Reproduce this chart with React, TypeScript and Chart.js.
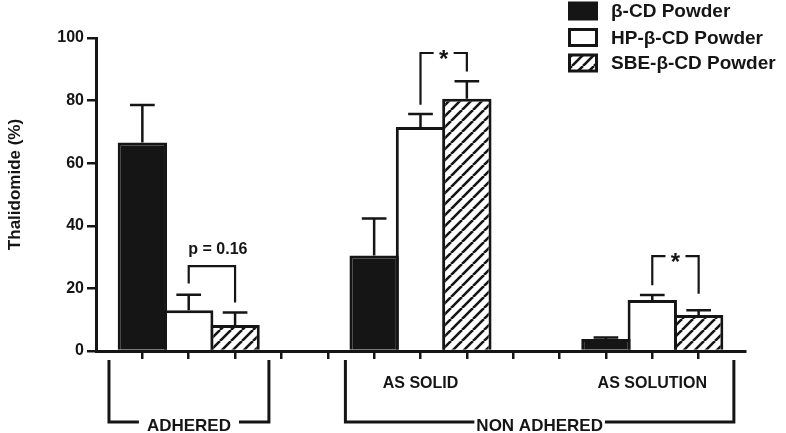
import React, { useEffect, useRef } from "react";
import { Chart, registerables } from "chart.js";

Chart.register(...registerables);

const FONT = "'Liberation Sans', Arial, Helvetica, sans-serif";
const INK = "#151515";

// ---------------- data ----------------
const seriesNames = ["β-CD Powder", "HP-β-CD Powder", "SBE-β-CD Powder"];
const groupNames = ["ADHERED", "AS SOLID", "AS SOLUTION"];
const subLabels = ["", "AS SOLID", "AS SOLUTION"];
const outerLabels = ["ADHERED", "NON ADHERED"];
const outerFirstGroup = [0, 1];
const outerLastGroup = [0, 2];

const betaCD = [66.6, 30.5, 3.8];
const betaCDErr = [12.0, 11.8, 0.5];
const hpBetaCD = [13.0, 71.6, 16.3];
const hpBetaCDErr = [5.0, 4.1, 1.6];
const sbeBetaCD = [8.3, 80.6, 11.5];
const sbeBetaCDErr = [4.0, 5.6, 1.5];

const yTicks = [0, 20, 40, 60, 80, 100];
const yTitle = "Thalidomide (%)";

// significance brackets (one per group, between HP and SBE bars)
const sigText = ["p = 0.16", "*", "*"];
const sigLine = [27.1, 95.2, 30.3];
const sigLegLeft = [21.6, 78.7, 21.0];
const sigLegRight = [15.5, 89.3, 18.3];

// ---------------- slot layout (1 leading empty slot, 3 bars + 2 gaps per group) ----------------
const SLOTS_PER_GROUP = 5;
const slotCount = groupNames.length * SLOTS_PER_GROUP;
const slotOf = (g: number, s: number) => 1 + g * SLOTS_PER_GROUP + s;
const slotLabels: string[] = Array.from({ length: slotCount }, (_, i) => {
  const g = Math.floor((i - 1) / SLOTS_PER_GROUP);
  const s = (i - 1) % SLOTS_PER_GROUP;
  return i >= 1 && s < 3 && g < groupNames.length ? `${groupNames[g]} ${seriesNames[s]}` : "";
});
const spread = (vals: number[], s: number) => {
  const arr: (number | null)[] = Array(slotCount).fill(null);
  vals.forEach((v, g) => (arr[slotOf(g, s)] = v));
  return arr;
};

const seriesValues = [betaCD, hpBetaCD, sbeBetaCD];
const seriesErrors = [betaCDErr, hpBetaCDErr, sbeBetaCDErr];

function makeHatch(): CanvasPattern | string {
  const c = document.createElement("canvas");
  const n = 11;
  c.width = n;
  c.height = n;
  const g = c.getContext("2d");
  if (!g) return "#fff";
  g.fillStyle = "#fff";
  g.fillRect(0, 0, n, n);
  g.strokeStyle = INK;
  g.lineWidth = 2.6;
  g.beginPath();
  for (let k = -1; k <= 1; k++) {
    g.moveTo(k * n, n);
    g.lineTo(k * n + n, 0);
  }
  g.stroke();
  return g.createPattern(c, "repeat") || "#fff";
}

function centerText(ctx: CanvasRenderingContext2D, text: string, x: number, cy: number) {
  ctx.textAlign = "center";
  ctx.textBaseline = "alphabetic";
  const m = ctx.measureText(text);
  const y0 = cy - (m.actualBoundingBoxDescent - m.actualBoundingBoxAscent) / 2;
  ctx.fillText(text, x, y0);
}

export default function App() {
  const ref = useRef<HTMLCanvasElement | null>(null);

  useEffect(() => {
    if (!ref.current) return;
    const hatch = makeHatch();
    const fills: (string | CanvasPattern)[] = [INK, "#ffffff", hatch];

    const errorBars = {
      id: "errorBars",
      afterDatasetsDraw(chart: any) {
        const ctx = chart.ctx;
        const ys = chart.scales.y;
        ctx.save();
        ctx.strokeStyle = INK;
        ctx.lineWidth = 2.5;
        chart.data.datasets.forEach((ds: any, i: number) => {
          const meta = chart.getDatasetMeta(i);
          meta.data.forEach((el: any, j: number) => {
            const v = ds.data[j];
            if (v === null || v === undefined) return;
            const e = ds.errors[j];
            const yTop = ys.getPixelForValue(v + e);
            const half = el.width / 4;
            ctx.beginPath();
            ctx.moveTo(el.x, el.y);
            ctx.lineTo(el.x, yTop);
            ctx.moveTo(el.x - half, yTop);
            ctx.lineTo(el.x + half, yTop);
            ctx.stroke();
          });
        });
        ctx.restore();
      },
    };

    const sigBrackets = {
      id: "sigBrackets",
      afterDatasetsDraw(chart: any) {
        const ctx = chart.ctx;
        const xs = chart.scales.x;
        const ys = chart.scales.y;
        ctx.save();
        ctx.strokeStyle = INK;
        ctx.fillStyle = INK;
        ctx.lineWidth = 2.2;
        sigText.forEach((t, g) => {
          const xL = xs.getPixelForValue(slotOf(g, 1));
          const xR = xs.getPixelForValue(slotOf(g, 2));
          const yl = ys.getPixelForValue(sigLine[g]);
          const y1 = ys.getPixelForValue(sigLegLeft[g]);
          const y2 = ys.getPixelForValue(sigLegRight[g]);
          const mid = (xL + xR) / 2;
          ctx.beginPath();
          if (t === "*") {
            ctx.moveTo(xL, y1);
            ctx.lineTo(xL, yl);
            ctx.lineTo(mid - 10, yl);
            ctx.moveTo(mid + 10, yl);
            ctx.lineTo(xR, yl);
            ctx.lineTo(xR, y2);
            ctx.stroke();
            ctx.font = `bold 24px ${FONT}`;
            centerText(ctx, t, mid, yl + 1);
          } else {
            ctx.moveTo(xL, y1);
            ctx.lineTo(xL, yl);
            ctx.lineTo(xR, yl);
            ctx.lineTo(xR, y2);
            ctx.stroke();
            ctx.font = `bold 16px ${FONT}`;
            ctx.textAlign = "center";
            ctx.textBaseline = "alphabetic";
            ctx.fillText(t, mid + 6, yl - 12);
          }
        });
        ctx.restore();
      },
    };

    const categoryBrackets = {
      id: "categoryBrackets",
      afterDraw(chart: any) {
        const ctx = chart.ctx;
        const xs = chart.scales.x;
        const base = xs.top;
        const topY = base + 9;
        const lineY = base + 71;
        const subY = base + 31;
        const extL = [0.72, 0.62];
        const extR = [0.73, 0.76];
        const gaps = [8, 2];
        ctx.save();
        ctx.strokeStyle = INK;
        ctx.fillStyle = INK;
        ctx.lineWidth = 3;
        ctx.lineJoin = "miter";
        outerLabels.forEach((lab, k) => {
          const x1 = xs.getPixelForValue(slotOf(outerFirstGroup[k], 0) - extL[k]);
          const x2 = xs.getPixelForValue(slotOf(outerLastGroup[k], 2) + extR[k]);
          ctx.font = `bold 17px ${FONT}`;
          const w = ctx.measureText(lab).width;
          const mid = (x1 + x2) / 2;
          ctx.beginPath();
          ctx.moveTo(x1, topY);
          ctx.lineTo(x1, lineY);
          ctx.lineTo(mid - w / 2 - gaps[k], lineY);
          ctx.moveTo(mid + w / 2 + gaps[k], lineY);
          ctx.lineTo(x2, lineY);
          ctx.lineTo(x2, topY);
          ctx.stroke();
          centerText(ctx, lab, mid, lineY + 3);
        });
        ctx.font = `bold 16px ${FONT}`;
        subLabels.forEach((lab, g) => {
          if (!lab) return;
          centerText(ctx, lab, xs.getPixelForValue(slotOf(g, 1)), subY);
        });
        ctx.restore();
      },
    };

    const yTitlePlugin = {
      id: "yTitle",
      afterDraw(chart: any) {
        const ctx = chart.ctx;
        const ys = chart.scales.y;
        ctx.save();
        ctx.translate(ys.left + 15, (ys.top + ys.bottom) / 2 - 10);
        ctx.rotate(-Math.PI / 2);
        ctx.fillStyle = INK;
        ctx.font = `bold 17px ${FONT}`;
        centerText(ctx, yTitle, 0, 0);
        ctx.restore();
      },
    };

    const legendPlugin = {
      id: "customLegend",
      afterDraw(chart: any) {
        const ctx = chart.ctx;
        const rows = [11, 37.5, 63];
        ctx.save();
        seriesNames.forEach((name, i) => {
          const cy = rows[i];
          ctx.fillStyle = fills[i] as any;
          ctx.fillRect(569.5, cy - 8, 27, 16);
          ctx.strokeStyle = INK;
          ctx.lineWidth = 3;
          ctx.strokeRect(569.5, cy - 8, 27, 16);
          ctx.fillStyle = INK;
          ctx.font = `bold 19px ${FONT}`;
          ctx.textAlign = "left";
          ctx.textBaseline = "middle";
          ctx.fillText(name, 611, cy + 1);
        });
        ctx.restore();
      },
    };

    const chart = new Chart(ref.current, {
      type: "bar",
      data: {
        labels: slotLabels,
        datasets: seriesNames.map((name, s) => ({
          label: name,
          data: spread(seriesValues[s], s),
          errors: spread(seriesErrors[s], s),
          backgroundColor: fills[s],
          borderColor: INK,
          borderWidth: 3,
          grouped: false,
          barPercentage: 1.065,
          categoryPercentage: 1,
        })) as any,
      },
      options: {
        animation: false,
        responsive: false,
        maintainAspectRatio: false,
        layout: { padding: { top: 38, right: 41, left: 0, bottom: 0 } },
        plugins: { legend: { display: false }, tooltip: { enabled: false } },
        scales: {
          x: {
            type: "category",
            offset: false,
            grid: {
              offset: false,
              drawOnChartArea: false,
              drawTicks: true,
              tickLength: 8,
              color: (c: any) => (c.index === 0 || c.index === slotCount - 1 ? "rgba(0,0,0,0)" : INK),
              tickColor: (c: any) => (c.index === 0 || c.index === slotCount - 1 ? "rgba(0,0,0,0)" : INK),
              lineWidth: 2.5,
              tickWidth: 2.5,
            },
            border: { display: true, color: INK, width: 3 },
            ticks: { display: false, autoSkip: false },
            afterFit: (s: any) => {
              s.height = 82;
            },
          },
          y: {
            min: 0,
            max: 100,
            afterBuildTicks: (s: any) => {
              s.ticks = yTicks.map((v) => ({ value: v }));
            },
            ticks: {
              color: INK,
              font: { family: FONT, size: 16, weight: "bold" },
              padding: 3,
            },
            grid: {
              drawOnChartArea: false,
              drawTicks: true,
              tickLength: 9,
              color: INK,
              lineWidth: 2.5,
              tickWidth: 2.5,
            },
            border: { display: true, color: INK, width: 3 },
            title: { display: false, text: yTitle },
            afterFit: (s: any) => {
              s.width = 96;
            },
          },
        },
      } as any,
      plugins: [errorBars, sigBrackets, categoryBrackets, yTitlePlugin, legendPlugin],
    });
    return () => chart.destroy();
  }, []);

  return (
    <div style={{ position: "absolute", left: 0, top: 0, width: 786, height: 433, background: "#fff" }}>
      <canvas ref={ref} width={786} height={433} style={{ display: "block", width: 786, height: 433 }} />
    </div>
  );
}
